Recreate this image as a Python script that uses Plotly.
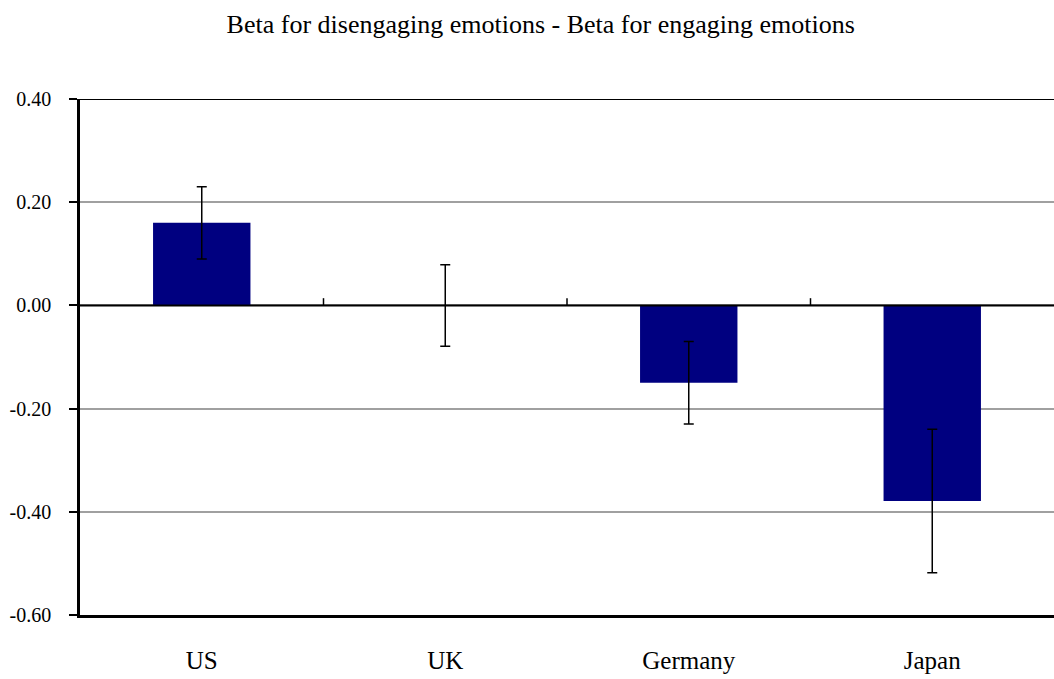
import plotly.graph_objects as go

countries = ["US", "UK", "Germany", "Japan"]
beta_diff = [0.16, 0.0, -0.15, -0.379]
error_half = [0.07, 0.079, 0.08, 0.139]
y_ticks = [-0.6, -0.4, -0.2, 0.0, 0.2, 0.4]
y_tick_labels = ["-0.60", "-0.40", "-0.20", "0.00", "0.20", "0.40"]

FONT = "Liberation Serif"

fig = go.Figure()
fig.add_trace(go.Bar(
    x=countries, y=beta_diff, width=0.4,
    marker=dict(color="#000080", line=dict(width=0)),
    error_y=dict(type="data", array=error_half, visible=True,
                 color="black", thickness=1.5, width=5),
    showlegend=False,
))

shapes = [
    # top border at 0.40 (dark)
    dict(type="line", xref="paper", yref="y", x0=0, x1=1, y0=0.4, y1=0.4,
         line=dict(color="black", width=2), layer="above"),
    # zero axis line
    dict(type="line", xref="paper", yref="y", x0=0, x1=1, y0=0, y1=0,
         line=dict(color="black", width=2), layer="above"),
]
# category separator ticks on the zero line
for i in range(len(countries) - 1):
    shapes.append(dict(type="line", xref="x", yref="y", x0=i + 0.5, x1=i + 0.5,
                       y0=0, y1=0.014, line=dict(color="black", width=1.5),
                       layer="above"))

fig.update_layout(
    width=1054, height=679,
    paper_bgcolor="white", plot_bgcolor="white",
    margin=dict(l=80, r=0, t=99, b=64),
    title=dict(text="Beta for disengaging emotions - Beta for engaging emotions",
               x=0.513, xanchor="center", y=0.965, yanchor="middle",
               font=dict(family=FONT, size=26, color="black")),
    font=dict(family=FONT, color="black"),
    shapes=shapes,
    bargap=0.6,
)
fig.update_xaxes(
    range=[-0.5, 3.5], showline=True, linecolor="black", linewidth=2.5,
    ticks="", showgrid=False, tickfont=dict(family=FONT, size=25, color="black"),
    ticklabelstandoff=21,
)
fig.update_yaxes(
    range=[-0.6, 0.4], tickvals=y_ticks, ticktext=y_tick_labels,
    showline=True, linecolor="black", linewidth=2.5,
    ticks="outside", ticklen=8, tickwidth=2, tickcolor="black",
    showgrid=True, gridcolor="#a0a0a0", gridwidth=1.5, zeroline=False,
    tickfont=dict(family=FONT, size=20, color="black"),
    ticklabelstandoff=14,
)

fig.write_html(
    "out.html",
    config={"displayModeBar": False},
    post_script="document.body.style.margin='0px';document.body.style.overflow='hidden';",
)
